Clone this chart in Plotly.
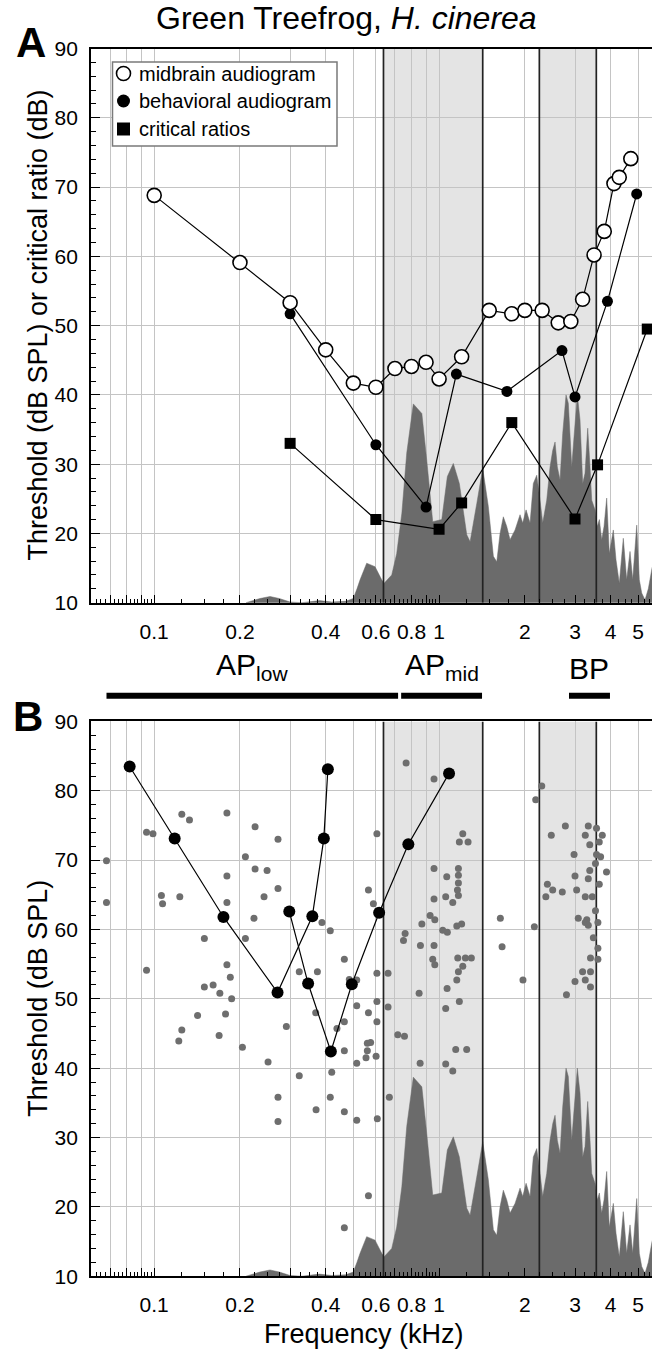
import numpy as np
import plotly.graph_objects as go

# ---------------- data ----------------
# Panel A: midbrain audiogram (open circles)
mid_f = [0.1, 0.2, 0.3, 0.4, 0.5, 0.6, 0.7, 0.8, 0.9, 1.0, 1.2, 1.5, 1.8, 2.0, 2.3,
         2.62, 2.9, 3.19, 3.5, 3.8, 4.11, 4.29, 4.71]
mid_db = [68.8, 59.1, 53.3, 46.5, 41.7, 41.1, 43.8, 44.1, 44.7, 42.3, 45.5, 52.2, 51.7,
          52.2, 52.2, 50.4, 50.6, 53.8, 60.2, 63.6, 70.5, 71.4, 74.1]

# Panel A: behavioral audiogram (filled circles)
beh_f = [0.3, 0.6, 0.9, 1.15, 1.73, 2.7, 3.0, 3.9, 4.94]
beh_db = [51.7, 32.8, 23.8, 43.0, 40.5, 46.4, 39.7, 53.5, 69.0]

# Panel A: critical ratios (squares)
cr_f = [0.3, 0.6, 1.0, 1.2, 1.8, 3.0, 3.6, 5.38]
cr_db = [33.0, 22.0, 20.6, 24.4, 36.0, 22.1, 29.9, 49.5]

# Advertisement-call spectrum (shown in both panels)
spec_f = [0.21, 0.235, 0.255, 0.275, 0.30, 0.33, 0.38, 0.42, 0.47, 0.50, 0.515,
          0.528, 0.557, 0.596, 0.629, 0.641, 0.682, 0.710, 0.740, 0.770, 0.812,
          0.870, 0.905, 0.950, 1.022, 1.069, 1.122, 1.178, 1.251, 1.285, 1.356,
          1.423, 1.489, 1.551, 1.594, 1.637, 1.681, 1.728, 1.775, 1.848, 1.924,
          1.966, 2.020, 2.086, 2.142, 2.202, 2.261, 2.311, 2.387, 2.452, 2.506,
          2.553, 2.601, 2.658, 2.716, 2.790, 2.842, 2.922, 2.977, 3.057, 3.124,
          3.193, 3.253, 3.325, 3.387, 3.434, 3.527, 3.593, 3.652, 3.723, 3.793,
          3.876, 3.959, 4.089, 4.179, 4.292, 4.433, 4.556, 4.680, 4.783, 4.941,
          5.046, 5.144, 5.283, 5.426, 5.591, 5.70]
spec_db = [10.0, 10.6, 10.9, 10.6, 10.1, 10.0, 10.3, 10.1, 10.2, 10.6, 12.0,
           13.3, 15.7, 15.2, 13.3, 12.8, 14.0, 17.1, 22.9, 31.6, 38.7,
           37.3, 30.6, 21.7, 22.0, 28.2, 30.1, 27.2, 19.8, 18.8, 24.3,
           29.4, 23.9, 16.7, 15.9, 20.0, 22.4, 21.0, 19.1, 20.5, 22.7,
           21.5, 23.4, 21.5, 27.2, 28.4, 24.8, 21.5, 24.8, 29.6, 32.0,
           33.2, 29.6, 27.7, 34.4, 40.0, 38.8, 29.6, 34.0, 40.0, 36.4,
           27.2, 28.7, 35.2, 29.6, 24.8, 23.4, 21.0, 22.0, 19.1, 21.0,
           25.1, 17.1, 20.5, 16.2, 12.8, 19.3, 13.3, 17.4, 13.3, 21.2,
           13.3, 11.4, 10.4, 12.0, 15.0, 16.0]

# Papilla frequency bands (kHz)
band_lo = [0.638, 2.249]
band_hi = [1.423, 3.564]

# Papilla range bars between panels
region_names = ["AP<sub>low</sub>", "AP<sub>mid</sub>", "BP"]
region_lo = [0.068, 0.736, 2.858]
region_hi = [0.718, 1.415, 3.98]

# Panel B: tuning curves (black)
tc1_f = [0.082, 0.118, 0.175, 0.271, 0.359, 0.394, 0.407]
tc1_db = [83.5, 73.1, 61.8, 50.9, 61.9, 73.1, 83.1]
tc2_f = [0.298, 0.347, 0.417, 0.494, 0.616, 0.78, 1.084]
tc2_db = [62.6, 52.2, 42.4, 52.1, 62.4, 72.3, 82.5]

# Panel B: single-unit thresholds at best frequency (gray)
bf_f = [0.068, 0.068, 0.094, 0.099, 0.106, 0.107, 0.094, 0.125, 0.133, 0.123, 0.150,
        0.150, 0.161, 0.170, 0.180, 0.180, 0.180, 0.185, 0.187, 0.180, 0.178, 0.142,
        0.125, 0.122, 0.169, 0.204, 0.209, 0.226, 0.226, 0.249, 0.243, 0.224, 0.209,
        0.272, 0.272, 0.251, 0.291, 0.323, 0.323, 0.374, 0.369, 0.388, 0.415, 0.465,
        0.484, 0.514, 0.465, 0.438, 0.465, 0.420, 0.514, 0.514, 0.565, 0.588, 0.565,
        0.560, 0.575, 0.560, 0.554, 0.601, 0.605, 0.605, 0.605, 0.605,
        0.766, 0.960, 1.211, 1.178, 1.264, 0.960, 1.064, 1.169, 1.169, 1.169, 1.160,
        1.169, 0.960, 1.055, 1.117, 0.930, 0.966, 0.870, 1.030, 1.069, 1.154, 1.200,
        0.760, 0.750, 0.860, 0.960, 0.950, 0.966, 1.163, 1.237, 1.298, 1.211, 1.169,
        1.154, 1.067, 0.851, 0.662, 0.662,
        0.669, 0.716, 0.756, 0.858, 1.055, 1.117, 1.144, 1.250, 1.055, 1.178,
        0.272, 0.272, 0.370, 0.415, 0.465, 0.514, 0.565, 0.465, 0.607,
        1.641, 1.664, 1.970, 2.160, 2.184, 2.293, 2.477, 2.400, 2.370, 2.505, 2.707,
        2.775, 2.800, 2.977, 3.000, 3.040, 3.080, 3.000, 3.190, 3.260, 3.260, 3.340,
        3.380, 3.570, 3.740, 3.650, 3.570, 3.690, 3.540, 3.380, 3.340, 3.650, 3.870,
        3.260, 3.450, 3.540, 3.300, 3.260, 3.340, 3.610, 3.480, 3.610, 3.610, 3.400,
        3.400, 3.400]
bf_db = [69.9, 63.9, 74.0, 73.8, 64.9, 63.7, 54.1, 76.6, 75.8, 64.7, 58.7,
         51.7, 52.0, 50.8, 67.7, 63.9, 54.9, 53.1, 50.0, 76.8, 47.8, 47.6,
         45.5, 43.9, 44.7, 43.0, 70.5, 74.8, 68.7, 68.5, 64.7, 61.6, 58.7,
         73.0, 65.9, 40.9, 46.0, 38.9, 53.9, 53.9, 48.0, 61.0, 59.8, 55.7,
         52.8, 52.7, 46.7, 45.7, 42.5, 39.4, 49.0, 40.7, 65.7, 63.7, 48.0,
         43.6, 43.7, 42.5, 41.5, 41.7, 73.8, 53.7, 49.6, 46.7,
         84.0, 81.7, 73.8, 72.6, 72.6, 68.8, 67.6, 68.8, 67.8, 66.7, 65.7,
         64.9, 64.4, 64.7, 63.9, 62.0, 61.4, 60.8, 59.9, 59.6, 60.5, 60.8,
         59.4, 58.4, 57.7, 57.7, 55.7, 54.9, 55.9, 55.9, 55.9, 54.7, 53.9,
         52.7, 51.5, 50.8, 53.7, 48.8,
         35.8, 44.8, 44.6, 40.7, 40.6, 39.6, 42.7, 42.7, 48.6, 49.6,
         35.8, 32.3, 34.0, 35.8, 33.7, 32.5, 21.6, 17.0, 32.7,
         61.6, 57.5, 52.7, 60.4, 78.7, 80.7, 73.6, 66.5, 64.7, 65.7, 65.4,
         74.9, 50.6, 70.8, 67.7, 65.7, 61.6, 52.5, 53.9, 52.7, 73.6, 74.9,
         72.2, 74.6, 73.6, 72.6, 70.8, 70.5, 69.5, 68.5, 67.3, 66.5, 68.3,
         64.7, 64.7, 62.7, 61.4, 61.0, 60.6, 61.0, 58.8, 57.3, 55.7, 55.9,
         53.9, 51.7]

# Legend entries for panel A
legend_labels = ["midbrain audiogram", "behavioral audiogram", "critical ratios"]

# Axis ticks
grid_vals = [0.07, 0.08, 0.09, 0.1, 0.2, 0.3, 0.4, 0.5, 0.6, 0.7, 0.8, 0.9, 1, 2, 3, 4, 5]
labeled = {0.1: "0.1", 0.2: "0.2", 0.4: "0.4", 0.6: "0.6", 0.8: "0.8", 1: "1",
           2: "2", 3: "3", 4: "4", 5: "5"}
grid_text = [labeled.get(v, "") for v in grid_vals]
minor_vals = ([round(0.0625 + 0.0025 * i, 4) for i in range(16)] +
              [round(0.1 + 0.025 * i, 3) for i in range(37)] +
              [round(1 + 0.25 * i, 2) for i in range(20)])
minor_vals = [v for v in minor_vals if v not in grid_vals]

# ---------------- figure ----------------
W, H = 652, 1353
L = 91
A_top, A_bot = 48.5, 602.7
B_top, B_bot = 721.4, 1276.2


def py(p):
    """pixel row -> paper y"""
    return 1 - p / H


def px(p):
    """pixel column -> paper x"""
    return (p - L) / (W - L)


FONT = "Arial, Liberation Sans, sans-serif"
GRID = "#c4c4c4"
SPEC = "#6b6b6b"
BAND = "#e4e4e4"

fig = go.Figure()

for xa, ya in (("x", "y"), ("x2", "y2")):
    fig.add_trace(go.Scatter(x=spec_f, y=spec_db, xaxis=xa, yaxis=ya, mode="lines",
                             fill="tozeroy", fillcolor=SPEC,
                             line=dict(color=SPEC, width=0.5), showlegend=False,
                             hoverinfo="skip"))
    for e in band_lo + band_hi:
        fig.add_trace(go.Scatter(x=[e, e], y=[10, 90], xaxis=xa, yaxis=ya, mode="lines",
                                 line=dict(color="#222222", width=1.7),
                                 showlegend=False, hoverinfo="skip"))

# Panel A series
fig.add_trace(go.Scatter(x=cr_f, y=cr_db, xaxis="x", yaxis="y", mode="lines+markers",
                         name=legend_labels[2], showlegend=False,
                         line=dict(color="black", width=1.2),
                         marker=dict(symbol="square", size=11, color="black")))
fig.add_trace(go.Scatter(x=beh_f, y=beh_db, xaxis="x", yaxis="y", mode="lines+markers",
                         name=legend_labels[1], showlegend=False,
                         line=dict(color="black", width=1.2),
                         marker=dict(symbol="circle", size=11, color="black")))
fig.add_trace(go.Scatter(x=mid_f, y=mid_db, xaxis="x", yaxis="y", mode="lines+markers",
                         name=legend_labels[0], showlegend=False,
                         line=dict(color="black", width=1.2),
                         marker=dict(symbol="circle", size=14, color="white",
                                     line=dict(color="black", width=1.6))))

# Panel B series
fig.add_trace(go.Scatter(x=bf_f, y=bf_db, xaxis="x2", yaxis="y2", mode="markers",
                         marker=dict(size=7, color="#6e6e6e"), showlegend=False))
for f, d in ((tc1_f, tc1_db), (tc2_f, tc2_db)):
    fig.add_trace(go.Scatter(x=f, y=d, xaxis="x2", yaxis="y2", mode="lines+markers",
                             line=dict(color="black", width=1.2),
                             marker=dict(size=12, color="black"), showlegend=False))

shapes = []
for xr, yr in (("x", "y"), ("x2", "y2")):
    for lo, hi in zip(band_lo, band_hi):
        shapes.append(dict(type="rect", xref=xr, yref=yr, x0=lo, x1=hi, y0=10, y1=90,
                           fillcolor=BAND, line=dict(width=0), layer="below"))
for lo, hi in zip(region_lo, region_hi):
    shapes.append(dict(type="rect", xref="x", yref="paper", x0=lo, x1=hi,
                       y0=py(698.7), y1=py(692.7), fillcolor="black",
                       line=dict(width=0)))

# Legend box with symbol keys
shapes.append(dict(type="rect", xref="paper", yref="paper", x0=px(112.5), x1=px(337),
                   y0=py(146), y1=py(62), fillcolor="white",
                   line=dict(color="#7a7a7a", width=1.5)))
key_x, key_rows = 123.5, [73.5, 101, 129]
shapes.append(dict(type="circle", xref="paper", yref="paper",
                   x0=px(key_x - 7), x1=px(key_x + 7), y0=py(key_rows[0] + 7),
                   y1=py(key_rows[0] - 7), fillcolor="white",
                   line=dict(color="black", width=1.6)))
shapes.append(dict(type="circle", xref="paper", yref="paper",
                   x0=px(key_x - 6.5), x1=px(key_x + 6.5), y0=py(key_rows[1] + 6.5),
                   y1=py(key_rows[1] - 6.5), fillcolor="black",
                   line=dict(color="black", width=0)))
shapes.append(dict(type="rect", xref="paper", yref="paper",
                   x0=px(key_x - 6.5), x1=px(key_x + 6.5), y0=py(key_rows[2] + 6.5),
                   y1=py(key_rows[2] - 6.5), fillcolor="black",
                   line=dict(color="black", width=0)))

annotations = [
    dict(text="Green Treefrog, <i>H. cinerea</i>", x=px(346), y=py(18),
         xref="paper", yref="paper", showarrow=False, font=dict(size=32, color="black"),
         xanchor="center", yanchor="middle"),
    dict(text="<b>A</b>", x=px(31), y=py(43), xref="paper", yref="paper",
         showarrow=False, font=dict(size=42, color="black"), xanchor="center",
         yanchor="middle"),
    dict(text="<b>B</b>", x=px(28), y=py(716), xref="paper", yref="paper",
         showarrow=False, font=dict(size=42, color="black"), xanchor="center",
         yanchor="middle"),
    dict(text="Threshold (dB SPL) or critical ratio (dB)", x=px(38),
         y=py((A_top + A_bot) / 2), xref="paper", yref="paper", showarrow=False,
         textangle=-90, font=dict(size=27, color="black"), xanchor="center",
         yanchor="middle"),
    dict(text="Threshold (dB SPL)", x=px(38), y=py((B_top + B_bot) / 2),
         xref="paper", yref="paper", showarrow=False, textangle=-90,
         font=dict(size=27, color="black"), xanchor="center", yanchor="middle"),
    dict(text="Frequency (kHz)", x=px(364), y=py(1334), xref="paper",
         yref="paper", showarrow=False, font=dict(size=27, color="black"),
         xanchor="center", yanchor="middle"),
]
for label, row in zip(legend_labels, key_rows):
    annotations.append(dict(text=label, x=px(137), y=py(row), xref="paper",
                            yref="paper", showarrow=False,
                            font=dict(size=20, color="black"), xanchor="left",
                            yanchor="middle"))
for name, lo, hi in zip(region_names, region_lo, region_hi):
    annotations.append(dict(text=name, x=(np.log10(lo) + np.log10(hi)) / 2, y=py(687),
                            xref="x", yref="paper", showarrow=False,
                            font=dict(size=30, color="black"), xanchor="center",
                            yanchor="bottom"))

xcommon = dict(type="log", range=[np.log10(0.06), np.log10(5.59)], tickmode="array",
               tickvals=grid_vals, ticktext=grid_text, ticks="inside", ticklen=8,
               tickwidth=1.2, tickcolor="black", showgrid=True, gridcolor=GRID,
               gridwidth=1, showline=True, linecolor="black", linewidth=1.8,
               mirror=True, zeroline=False, ticklabelstandoff=9, automargin=False,
               tickfont=dict(size=21, color="black"),
               minor=dict(tickvals=minor_vals, ticks="inside", ticklen=4, tickwidth=1,
                          tickcolor="black", showgrid=False))
ycommon = dict(range=[10, 90], tickmode="linear", tick0=10, dtick=10, ticks="inside",
               ticklen=9, tickwidth=1.2, tickcolor="black", showgrid=True,
               gridcolor=GRID, gridwidth=1, showline=True, linecolor="black",
               linewidth=1.8, zeroline=False, ticklabelstandoff=7, automargin=False,
               tickfont=dict(size=21, color="black"),
               minor=dict(dtick=2, ticks="inside", ticklen=5, tickwidth=1,
                          tickcolor="black", showgrid=False))

fig.update_layout(
    width=W, height=H, margin=dict(l=L, r=0, t=0, b=0, pad=0, autoexpand=False),
    paper_bgcolor="white", plot_bgcolor="white",
    font=dict(family=FONT, color="black"),
    xaxis=dict(xcommon, anchor="y", domain=[0, 1]),
    yaxis=dict(ycommon, anchor="x", domain=[py(A_bot), py(A_top)]),
    xaxis2=dict(xcommon, anchor="y2", domain=[0, 1]),
    yaxis2=dict(ycommon, anchor="x2", domain=[py(B_bot), py(B_top)]),
    shapes=shapes, annotations=annotations,
    showlegend=False,
)

fig.write_html("out.html")
